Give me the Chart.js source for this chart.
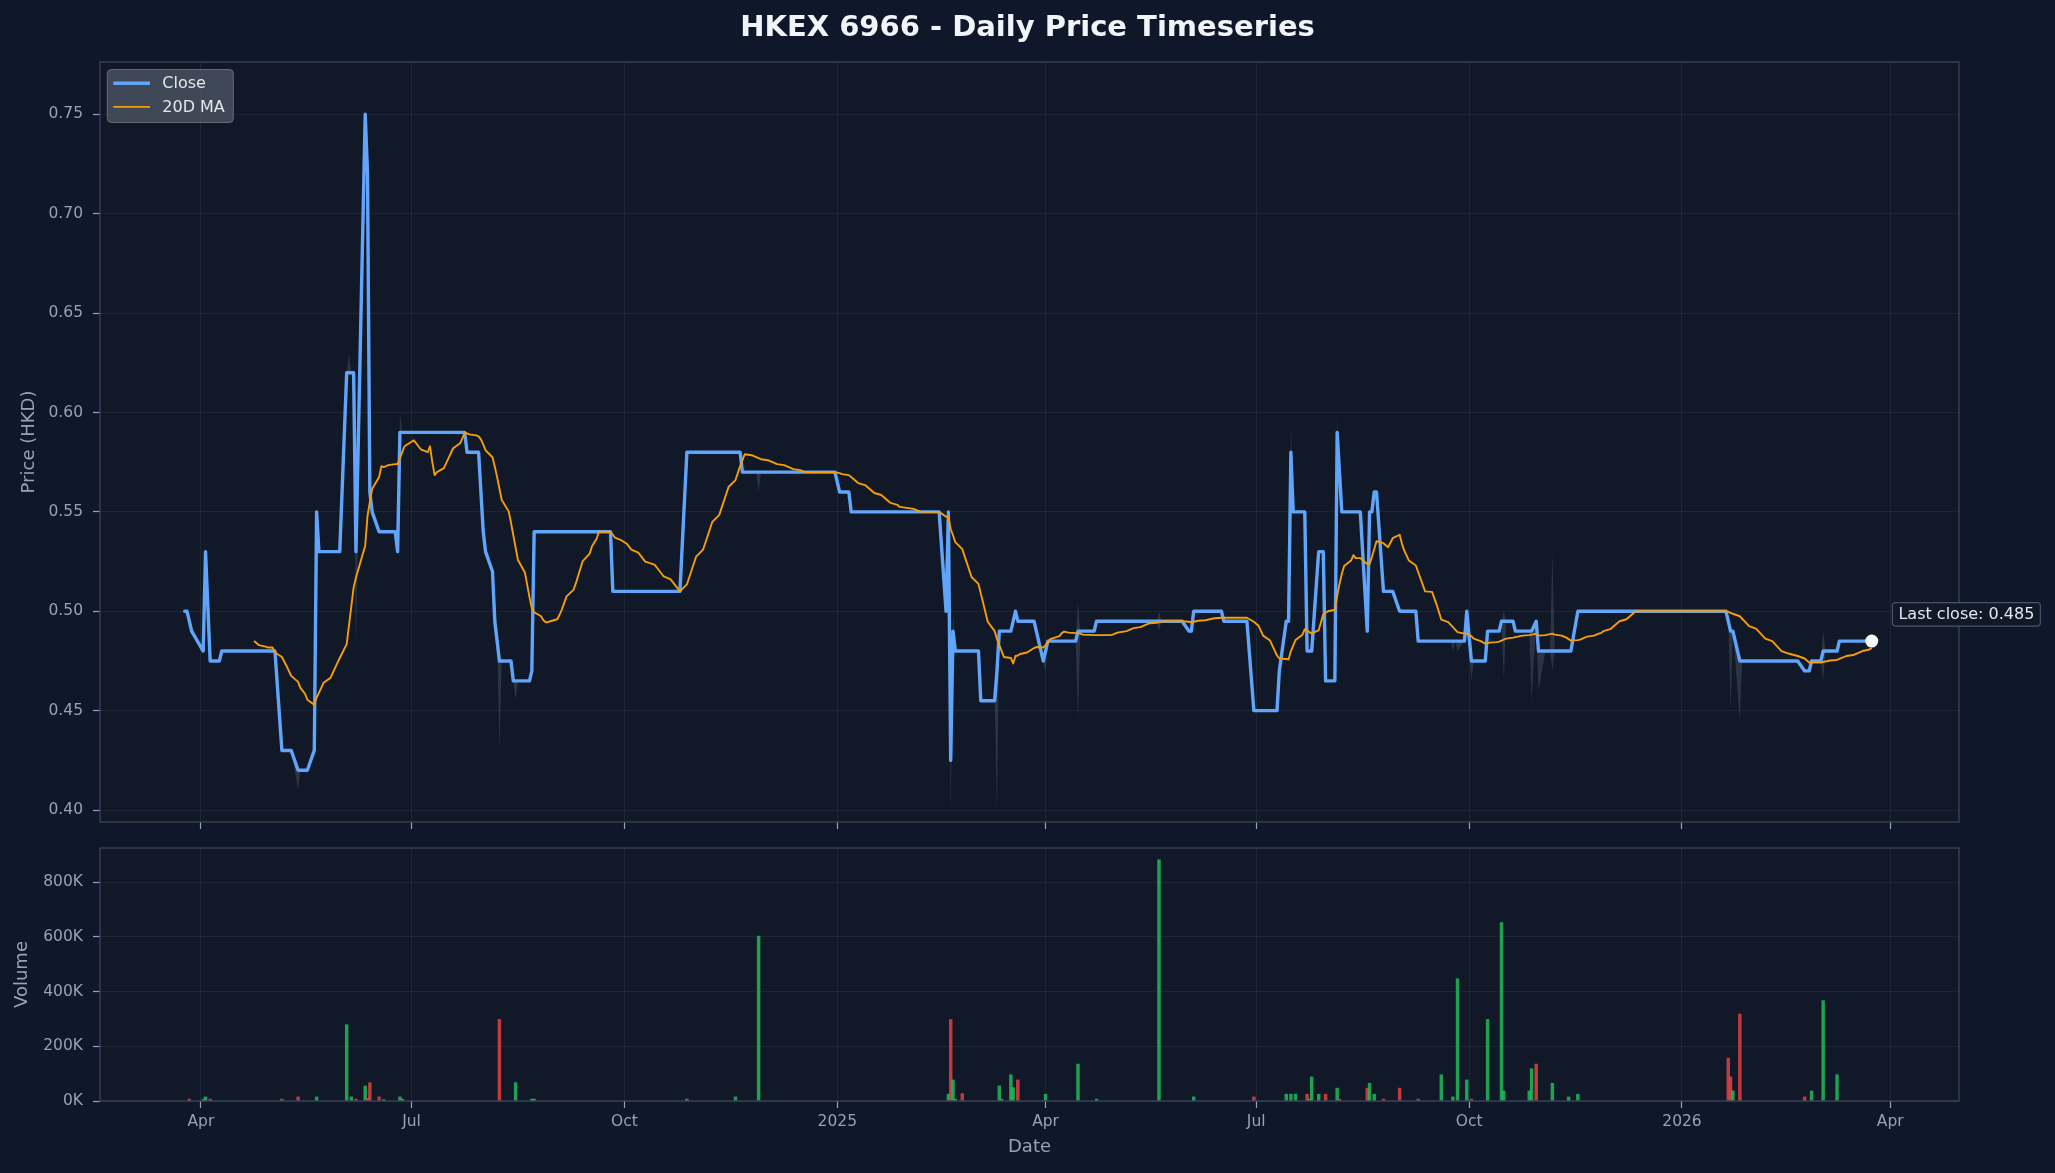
<!DOCTYPE html>
<html>
<head>
<meta charset="utf-8">
<title>HKEX 6966 - Daily Price Timeseries</title>
<script src="https://cdn.jsdelivr.net/npm/chart.js@4.4.1/dist/chart.umd.min.js"></script>
<style>
    html, body { margin: 0; padding: 0; background: #0f172a; }
    #wrap { position: relative; width: 2055px; height: 1173px; overflow: hidden; }
    canvas { position: absolute; left: 0; }
    #price { top: 0; }
    #volume { top: 835px; }
</style>
</head>
<body>
<div id="wrap">
    <canvas id="price" width="2055" height="835"></canvas>
    <canvas id="volume" width="2055" height="338"></canvas>
</div>
<script>
const firstDay = '2024-03-25'
const lastDay = '2026-03-24'

// HKEX weekday holidays inside the range
const holidays = [
    '2024-03-29', '2024-04-01', '2024-04-04', '2024-05-01', '2024-05-15', '2024-06-10', '2024-07-01',
    '2024-09-18', '2024-10-01', '2024-10-11', '2024-12-25', '2024-12-26',
    '2025-01-01', '2025-01-29', '2025-01-30', '2025-01-31', '2025-04-04', '2025-04-18', '2025-04-21',
    '2025-05-01', '2025-05-05', '2025-07-01', '2025-10-01', '2025-10-07', '2025-10-29', '2025-12-25', '2025-12-26',
    '2026-01-01', '2026-02-17', '2026-02-18', '2026-02-19'
]

// daily close, one line per month
const closes = [
    0.50, 0.50, 0.495, 0.49,
    0.48, 0.53, 0.475, 0.475, 0.475, 0.48, 0.48, 0.48, 0.48, 0.48, 0.48, 0.48, 0.48, 0.48, 0.48, 0.48, 0.48, 0.48, 0.48, 0.48,
    0.48, 0.48, 0.43, 0.43, 0.43, 0.43, 0.43, 0.42, 0.42, 0.42, 0.42, 0.43, 0.55, 0.53, 0.53, 0.53, 0.53, 0.53, 0.53, 0.53, 0.53,
    0.62, 0.62, 0.62, 0.62, 0.53, 0.75, 0.72, 0.56, 0.55, 0.54, 0.54, 0.54, 0.54, 0.54, 0.54, 0.53, 0.59, 0.59, 0.59,
    0.59, 0.59, 0.59, 0.59, 0.59, 0.59, 0.59, 0.59, 0.59, 0.59, 0.59, 0.59, 0.59, 0.59, 0.59, 0.59, 0.59, 0.58, 0.58, 0.58, 0.58, 0.56,
    0.54, 0.53, 0.52, 0.495, 0.485, 0.475, 0.475, 0.475, 0.475, 0.465, 0.465, 0.465, 0.465, 0.465, 0.465, 0.47, 0.54, 0.54, 0.54, 0.54, 0.54, 0.54,
    0.54, 0.54, 0.54, 0.54, 0.54, 0.54, 0.54, 0.54, 0.54, 0.54, 0.54, 0.54, 0.54, 0.54, 0.54, 0.54, 0.54, 0.51, 0.51, 0.51,
    0.51, 0.51, 0.51, 0.51, 0.51, 0.51, 0.51, 0.51, 0.51, 0.51, 0.51, 0.51, 0.51, 0.51, 0.51, 0.51, 0.51, 0.58, 0.58, 0.58, 0.58,
    0.58, 0.58, 0.58, 0.58, 0.58, 0.58, 0.58, 0.58, 0.58, 0.58, 0.58, 0.58, 0.58, 0.58, 0.57, 0.57, 0.57, 0.57, 0.57, 0.57, 0.57,
    0.57, 0.57, 0.57, 0.57, 0.57, 0.57, 0.57, 0.57, 0.57, 0.57, 0.57, 0.57, 0.57, 0.57, 0.57, 0.57, 0.57, 0.57, 0.57, 0.57,
    0.56, 0.56, 0.56, 0.55, 0.55, 0.55, 0.55, 0.55, 0.55, 0.55, 0.55, 0.55, 0.55, 0.55, 0.55, 0.55, 0.55, 0.55, 0.55,
    0.55, 0.55, 0.55, 0.55, 0.55, 0.55, 0.55, 0.55, 0.55, 0.55, 0.50, 0.55, 0.425, 0.49, 0.48, 0.48, 0.48, 0.48, 0.48, 0.48,
    0.48, 0.455, 0.455, 0.455, 0.455, 0.455, 0.47, 0.49, 0.49, 0.49, 0.49, 0.495, 0.50, 0.495, 0.495, 0.495, 0.495, 0.495, 0.495, 0.49, 0.475,
    0.48, 0.485, 0.485, 0.485, 0.485, 0.485, 0.485, 0.485, 0.485, 0.49, 0.49, 0.49, 0.49, 0.495, 0.495, 0.495, 0.495, 0.495, 0.495,
    0.495, 0.495, 0.495, 0.495, 0.495, 0.495, 0.495, 0.495, 0.495, 0.495, 0.495, 0.495, 0.495, 0.495, 0.495, 0.495, 0.495, 0.495, 0.495, 0.495,
    0.49, 0.49, 0.50, 0.50, 0.50, 0.50, 0.50, 0.50, 0.50, 0.50, 0.50, 0.495, 0.495, 0.495, 0.495, 0.495, 0.495, 0.495, 0.495, 0.495, 0.45,
    0.45, 0.45, 0.45, 0.45, 0.45, 0.45, 0.45, 0.47, 0.495, 0.495, 0.58, 0.55, 0.55, 0.55, 0.55, 0.48, 0.48, 0.48, 0.53, 0.53, 0.53, 0.465,
    0.465, 0.465, 0.59, 0.57, 0.55, 0.55, 0.55, 0.55, 0.55, 0.55, 0.55, 0.49, 0.55, 0.55, 0.56, 0.56, 0.51, 0.51, 0.51, 0.51, 0.51,
    0.50, 0.50, 0.50, 0.50, 0.50, 0.50, 0.485, 0.485, 0.485, 0.485, 0.485, 0.485, 0.485, 0.485, 0.485, 0.485, 0.485, 0.485, 0.485, 0.485, 0.485, 0.50,
    0.475, 0.475, 0.475, 0.475, 0.49, 0.49, 0.49, 0.49, 0.495, 0.495, 0.495, 0.495, 0.49, 0.49, 0.49, 0.49, 0.49, 0.49, 0.495, 0.48,
    0.48, 0.48, 0.48, 0.48, 0.48, 0.48, 0.48, 0.48, 0.48, 0.48, 0.50, 0.50, 0.50, 0.50, 0.50, 0.50, 0.50, 0.50, 0.50, 0.50,
    0.50, 0.50, 0.50, 0.50, 0.50, 0.50, 0.50, 0.50, 0.50, 0.50, 0.50, 0.50, 0.50, 0.50, 0.50, 0.50, 0.50, 0.50, 0.50, 0.50, 0.50,
    0.50, 0.50, 0.50, 0.50, 0.50, 0.50, 0.50, 0.50, 0.50, 0.50, 0.50, 0.50, 0.50, 0.495, 0.49, 0.49, 0.475, 0.475, 0.475, 0.475, 0.475,
    0.475, 0.475, 0.475, 0.475, 0.475, 0.475, 0.475, 0.475, 0.475, 0.475, 0.475, 0.475, 0.47, 0.47, 0.47, 0.475, 0.475,
    0.475, 0.48, 0.48, 0.48, 0.48, 0.48, 0.485, 0.485, 0.485, 0.485, 0.485, 0.485, 0.485, 0.485, 0.485, 0.485, 0.485
]

// intraday extremes that stand out from the close
const wickDates = ['2024-05-13', '2024-06-04', '2024-06-07', '2024-06-26', '2024-08-08', '2024-08-15', '2024-11-28',
    '2025-02-19', '2025-02-20', '2025-03-11', '2025-04-01', '2025-04-15', '2025-05-20', '2025-07-16', '2025-08-05',
    '2025-09-24', '2025-09-26', '2025-10-02', '2025-10-16', '2025-10-28', '2025-10-31', '2025-11-06',
    '2026-01-22', '2026-01-26', '2026-03-03']
const wickLows = [0.41, null, 0.48, null, 0.43, 0.455, 0.56,
    0.395, null, 0.40, 0.47, 0.445, 0.49, null, null,
    0.48, 0.48, 0.465, 0.465, 0.455, 0.46, 0.47,
    0.45, 0.445, 0.465]
const wickHighs = [null, 0.63, null, 0.60, null, null, null,
    null, 0.50, null, null, 0.505, 0.50, 0.595, 0.60,
    null, null, null, 0.50, null, null, 0.53,
    null, null, 0.49]

const volDates = ['2024-03-27', '2024-04-02', '2024-04-03', '2024-04-05', '2024-05-06', '2024-05-13', '2024-05-21', '2024-06-03',
    '2024-06-05', '2024-06-07', '2024-06-11', '2024-06-12', '2024-06-13', '2024-06-17', '2024-06-19', '2024-06-26', '2024-06-27',
    '2024-08-08', '2024-08-15', '2024-08-22', '2024-08-23', '2024-10-28', '2024-11-18', '2024-11-28',
    '2025-02-18', '2025-02-19', '2025-02-20', '2025-02-21', '2025-02-24', '2025-03-12', '2025-03-13', '2025-03-17', '2025-03-18',
    '2025-03-20', '2025-04-01', '2025-04-15', '2025-04-23', '2025-05-20', '2025-06-04', '2025-06-30', '2025-07-14', '2025-07-16',
    '2025-07-18', '2025-07-23', '2025-07-24', '2025-07-25', '2025-07-28', '2025-07-31', '2025-08-05', '2025-08-06', '2025-08-18',
    '2025-08-19', '2025-08-21', '2025-08-25', '2025-09-01', '2025-09-09', '2025-09-19', '2025-09-24', '2025-09-26', '2025-09-30',
    '2025-10-02', '2025-10-09', '2025-10-15', '2025-10-16', '2025-10-27', '2025-10-28', '2025-10-30', '2025-11-06', '2025-11-13',
    '2025-11-17', '2026-01-21', '2026-01-22', '2026-01-23', '2026-01-26', '2026-02-23', '2026-02-26', '2026-03-03', '2026-03-09']
const volValues = [7000, 7000, 15000, 7000, 7000, 15000, 15000, 279000,
    15000, 7000, 55000, 10000, 67000, 15000, 5000, 15000, 7000,
    298000, 67000, 7000, 7000, 7000, 15000, 603000,
    25000, 298000, 77000, 7000, 27000, 55000, 7000, 96000, 49000,
    77000, 25000, 135000, 7000, 882000, 15000, 15000, 25000, 25000,
    25000, 25000, 7000, 88000, 25000, 25000, 47000, 7000, 47000,
    65000, 25000, 7000, 47000, 7000, 96000, 15000, 447000, 77000,
    7000, 298000, 652000, 37000, 37000, 118000, 135000, 65000, 15000,
    25000, 157000, 88000, 37000, 318000, 15000, 37000, 367000, 96000]
const volUp = [0, 0, 1, 0, 0, 0, 1, 1,
    1, 0, 1, 0, 0, 0, 1, 1, 1,
    0, 1, 1, 1, 1, 1, 1,
    1, 0, 1, 1, 0, 1, 1, 1, 1,
    0, 1, 1, 1, 1, 1, 0, 1, 1,
    1, 0, 1, 1, 1, 0, 1, 0, 0,
    1, 1, 0, 0, 0, 1, 1, 1, 1,
    0, 1, 1, 1, 1, 1, 0, 1, 1,
    1, 0, 0, 1, 0, 0, 1, 1, 1]

const monthTicks = ['2024-04-01', '2024-07-01', '2024-10-01', '2025-01-01', '2025-04-01', '2025-07-01', '2025-10-01', '2026-01-01', '2026-04-01']
const monthLabels = ['Apr', 'Jul', 'Oct', '2025', 'Apr', 'Jul', 'Oct', '2026', 'Apr']
const priceTicks = [0.40, 0.45, 0.50, 0.55, 0.60, 0.65, 0.70, 0.75]
const volumeTicks = [0, 200000, 400000, 600000, 800000]

const dayMs = 86400000
const epoch = Date.UTC(2024, 3, 1)
const toDay = s => (Date.parse(s + 'T00:00:00Z') - epoch) / dayMs

function tradingDays(from, to, skip) {
    const out = []
    const end = Date.parse(to + 'T00:00:00Z')
    for (let t = Date.parse(from + 'T00:00:00Z'); t <= end; t += dayMs) {
        const d = new Date(t)
        const iso = d.toISOString().slice(0, 10)
        if (d.getUTCDay() === 0 || d.getUTCDay() === 6 || skip.includes(iso)) continue
        out.push(iso)
    }
    return out
}

const dates = tradingDays(firstDay, lastDay, holidays)
if (dates.length !== closes.length) console.warn('length mismatch', dates.length, closes.length)

const xs = dates.map(toDay)
const closeData = closes.map((v, i) => ({ x: xs[i], y: v }))

const maData = closes.map((v, i) => {
    if (i < 19) return { x: xs[i], y: null }
    let s = 0
    for (let k = i - 19; k <= i; k++) s += closes[k]
    return { x: xs[i], y: s / 20 }
})

const lowData = closes.map((v, i) => {
    const w = wickDates.indexOf(dates[i])
    return { x: xs[i], y: w >= 0 && wickLows[w] !== null ? wickLows[w] : v }
})
const highData = closes.map((v, i) => {
    const w = wickDates.indexOf(dates[i])
    return { x: xs[i], y: w >= 0 && wickHighs[w] !== null ? wickHighs[w] : v }
})

const lastPoint = closeData[closeData.length - 1]
const volData = volDates.map((d, i) => ({ x: toDay(d), y: volValues[i] }))
const volColors = volUp.map(u => u ? 'rgba(34,197,94,0.8)' : 'rgba(239,68,68,0.8)')

const xMin = -43.6
const xMax = 759.7
const figBg = '#0f172a'
const axBg = '#111827'
const gridColor = 'rgba(148,163,184,0.1)'
const tickColor = '#94a3b8'
const spineColor = '#3b4556'
const textColor = '#94a3b8'

Chart.defaults.font.family = "'DejaVu Sans', 'Liberation Sans', sans-serif"
Chart.defaults.color = textColor

// keep tick-label overhang from pushing the plot area around
const fixWidth = w => axis => { axis.width = w; axis.paddingTop = 0; axis.paddingBottom = 0 }
const fixHeight = h => axis => { axis.height = h; axis.paddingLeft = 0; axis.paddingRight = 0 }

const panel = {
    id: 'panel',
    beforeDraw(chart) {
        const { ctx, chartArea: a } = chart
        ctx.save()
        ctx.fillStyle = figBg
        ctx.fillRect(0, 0, chart.width, chart.height)
        ctx.fillStyle = axBg
        ctx.fillRect(a.left, a.top, a.right - a.left, a.bottom - a.top)
        ctx.restore()
    },
    afterDraw(chart) {
        const { ctx, chartArea: a } = chart
        ctx.save()
        ctx.strokeStyle = spineColor
        ctx.lineWidth = 1.3
        ctx.strokeRect(a.left, a.top, a.right - a.left, a.bottom - a.top)
        ctx.restore()
    }
}

function roundBox(ctx, x, y, w, h, r) {
    ctx.beginPath()
    ctx.moveTo(x + r, y)
    ctx.lineTo(x + w - r, y)
    ctx.arcTo(x + w, y, x + w, y + r, r)
    ctx.lineTo(x + w, y + h - r)
    ctx.arcTo(x + w, y + h, x + w - r, y + h, r)
    ctx.lineTo(x + r, y + h)
    ctx.arcTo(x, y + h, x, y + h - r, r)
    ctx.lineTo(x, y + r)
    ctx.arcTo(x, y, x + r, y, r)
    ctx.closePath()
}

const legendBox = {
    id: 'legendBox',
    afterDraw(chart) {
        const { ctx, chartArea: a } = chart
        const x = a.left + 7.3
        const y = a.top + 7.5
        ctx.save()
        roundBox(ctx, x, y, 126, 53, 4)
        ctx.fillStyle = 'rgba(75,85,99,0.8)'
        ctx.fill()
        ctx.strokeStyle = 'rgba(107,114,128,0.9)'
        ctx.lineWidth = 1
        ctx.stroke()

        const items = [chart.data.datasets[2], chart.data.datasets[3]]
        items.forEach((ds, i) => {
            const ly = y + 13.7 + i * 23.7
            ctx.strokeStyle = ds.borderColor
            ctx.lineWidth = ds.borderWidth
            ctx.beginPath()
            ctx.moveTo(x + 6, ly)
            ctx.lineTo(x + 42.7, ly)
            ctx.stroke()
            ctx.fillStyle = '#e5e7eb'
            ctx.font = "16px 'DejaVu Sans'"
            ctx.textBaseline = 'middle'
            ctx.fillText(ds.label, x + 55, ly + 0.5)
        })
        ctx.restore()
    }
}

const lastLabel = {
    id: 'lastLabel',
    afterDraw(chart) {
        const { ctx } = chart
        const pt = chart.getDatasetMeta(4).data[0]
        const text = 'Last close: ' + lastPoint.y.toFixed(3)
        ctx.save()
        ctx.font = "16px 'DejaVu Sans'"
        const w = ctx.measureText(text).width + 12
        const bx = pt.x + 20.7
        const by = pt.y - 38.5
        roundBox(ctx, bx, by, w, 23.5, 3)
        ctx.fillStyle = axBg
        ctx.fill()
        ctx.strokeStyle = '#475569'
        ctx.lineWidth = 1.2
        ctx.stroke()
        ctx.fillStyle = '#e2e8f0'
        ctx.textBaseline = 'middle'
        ctx.fillText(text, bx + 6, by + 12)
        ctx.restore()
    }
}

const xGrid = { color: gridColor, tickColor: tickColor, tickLength: 7, tickWidth: 1.2, lineWidth: 1 }
const yGrid = { color: gridColor, tickColor: tickColor, tickLength: 7, tickWidth: 1.2, lineWidth: 1 }

new Chart(document.getElementById('price'), {
    type: 'line',
    data: {
        datasets: [
            { label: 'Low', data: lowData, borderColor: 'transparent', borderWidth: 0, pointRadius: 0, fill: '+1', backgroundColor: 'rgba(148,163,184,0.2)', order: 3 },
            { label: 'High', data: highData, borderColor: 'transparent', borderWidth: 0, pointRadius: 0, fill: false, order: 3 },
            { label: 'Close', data: closeData, borderColor: '#60a5fa', borderWidth: 3.4, pointRadius: 0, borderJoinStyle: 'round', borderCapStyle: 'round', order: 2 },
            { label: '20D MA', data: maData, borderColor: '#f59e0b', borderWidth: 1.9, pointRadius: 0, borderJoinStyle: 'round', order: 1 },
            { label: 'Last', data: [lastPoint], showLine: false, pointRadius: 6.5, pointBackgroundColor: '#f8fafc', pointBorderWidth: 0, order: 0 }
        ]
    },
    options: {
        responsive: false,
        animation: false,
        devicePixelRatio: 1,
        layout: { padding: 0 },
        plugins: {
            legend: { display: false },
            tooltip: { enabled: false },
            title: {
                display: true,
                text: 'HKEX 6966 - Daily Price Timeseries',
                color: '#f1f5f9',
                font: { size: 29, weight: 'bold', lineHeight: 1.2 },
                padding: { top: 11, bottom: 16.2 }
            }
        },
        scales: {
            x: {
                type: 'linear',
                min: xMin,
                max: xMax,
                afterBuildTicks: axis => { axis.ticks = monthTicks.map(d => ({ value: toDay(d) })) },
                afterFit: fixHeight(13),
                ticks: { display: false },
                grid: xGrid,
                border: { display: false }
            },
            y: {
                min: 0.394,
                max: 0.7763,
                afterBuildTicks: axis => { axis.ticks = priceTicks.map(v => ({ value: v })) },
                afterFit: fixWidth(100),
                ticks: { callback: v => Number(v).toFixed(2), padding: 10, color: textColor, font: { size: 15.5 } },
                grid: yGrid,
                border: { display: false },
                title: { display: true, text: 'Price (HKD)', color: textColor, font: { size: 18 }, padding: { top: 18.2, bottom: 0 } }
            },
            yPad: {
                axis: 'y',
                position: 'right',
                afterFit: fixWidth(96),
                ticks: { display: false },
                grid: { display: false },
                border: { display: false }
            }
        }
    },
    plugins: [panel, legendBox, lastLabel]
})

new Chart(document.getElementById('volume'), {
    type: 'bar',
    data: {
        datasets: [{ label: 'Volume', data: volData, backgroundColor: volColors, barThickness: 2.8, grouped: false }]
    },
    options: {
        responsive: false,
        animation: false,
        devicePixelRatio: 1,
        layout: { padding: { top: 13, right: 96, left: 0, bottom: 0 } },
        plugins: { legend: { display: false }, tooltip: { enabled: false } },
        scales: {
            x: {
                type: 'linear',
                min: xMin,
                max: xMax,
                offset: false,
                afterBuildTicks: axis => { axis.ticks = monthTicks.map(d => ({ value: toDay(d) })) },
                afterFit: fixHeight(72),
                ticks: { callback: (v, i) => monthLabels[i], padding: 5, maxRotation: 0, autoSkip: false, color: textColor, font: { size: 15.5 } },
                grid: Object.assign({ offset: false }, xGrid),
                border: { display: false },
                title: { display: true, text: 'Date', color: textColor, font: { size: 18 }, padding: { top: 0, bottom: 15.2 } }
            },
            y: {
                min: 0,
                max: 925000,
                afterBuildTicks: axis => { axis.ticks = volumeTicks.map(v => ({ value: v })) },
                afterFit: fixWidth(100),
                ticks: { callback: v => Math.round(v / 1000) + 'K', padding: 10, color: textColor, font: { size: 15.5 } },
                grid: yGrid,
                border: { display: false },
                title: { display: true, text: 'Volume', color: textColor, font: { size: 18 }, padding: { top: 11.5, bottom: 0 } }
            }
        }
    },
    plugins: [panel]
})
</script>
</body>
</html>
